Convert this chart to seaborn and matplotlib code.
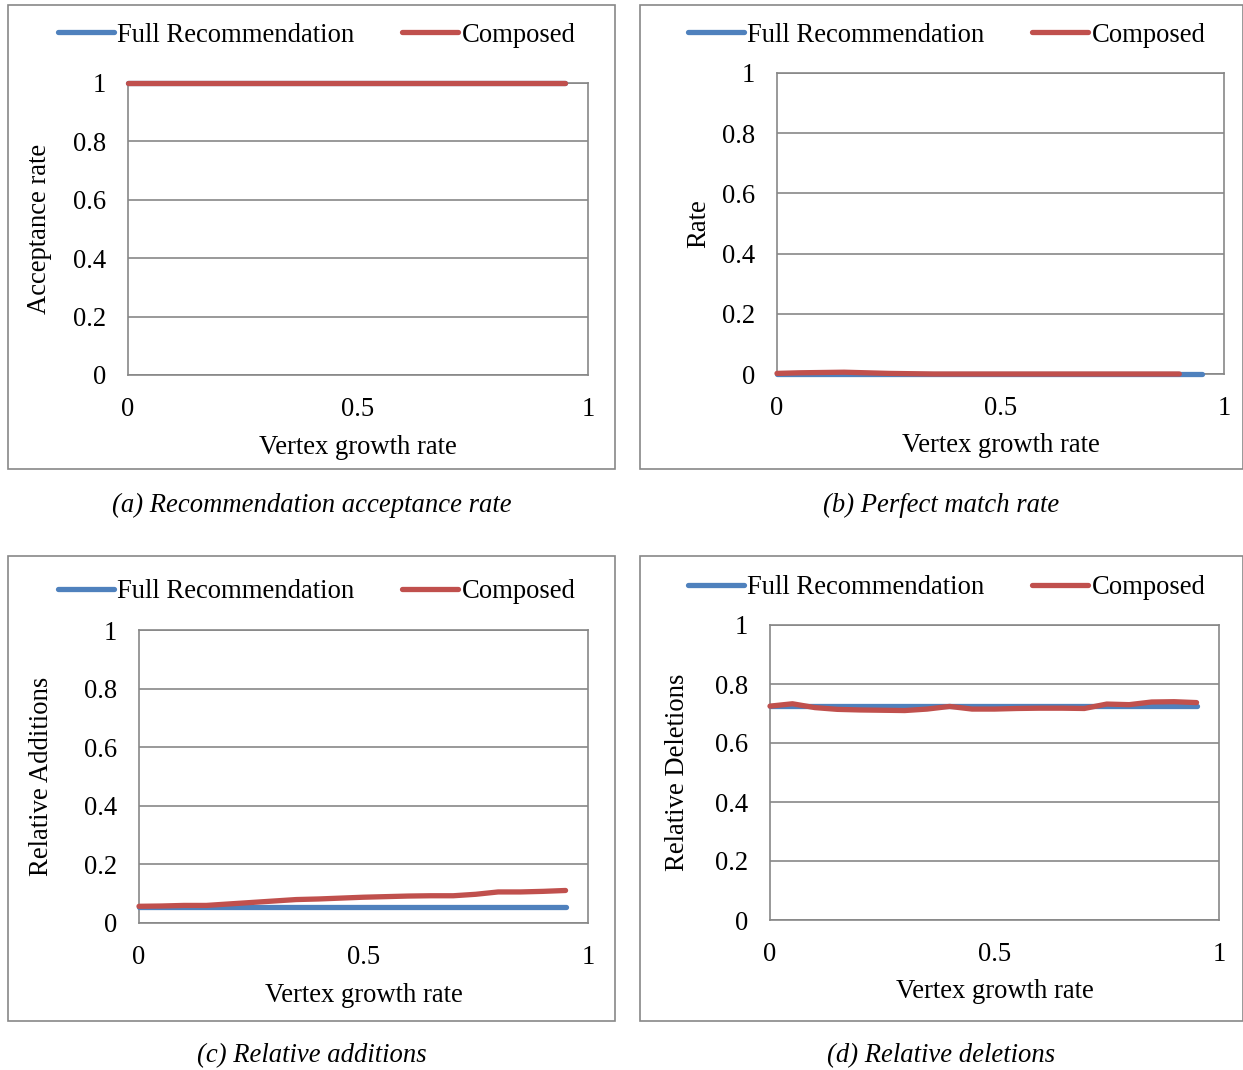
import numpy as np
import pandas as pd
import matplotlib.pyplot as plt
import seaborn as sns
from matplotlib.patches import Rectangle

# growth rates sampled in the experiments
growth = [0.0, 0.05, 0.1, 0.15, 0.2, 0.25, 0.3, 0.35, 0.4, 0.45,
          0.5, 0.55, 0.6, 0.65, 0.7, 0.75, 0.8, 0.85, 0.9, 0.95]

acc_full = [1.0] * 20
acc_comp = [1.0] * 20

perfect_full = [0.0] * 20
perfect_comp = [0.002, 0.004, 0.005, 0.006, 0.004, 0.002, 0.001, 0.0, 0.0, 0.0,
                0.0, 0.0, 0.0, 0.0, 0.0, 0.0, 0.0, 0.0, 0.0]  # last run missing

add_full = [0.055] * 20
add_comp = [0.057, 0.058, 0.06, 0.06, 0.065, 0.07, 0.075, 0.08, 0.082, 0.085,
            0.088, 0.09, 0.092, 0.093, 0.093, 0.098, 0.106, 0.106, 0.108, 0.111]

del_full = [0.725] * 20
del_comp = [0.725, 0.733, 0.72, 0.714, 0.712, 0.711, 0.71, 0.715, 0.724, 0.715,
            0.715, 0.717, 0.718, 0.718, 0.717, 0.732, 0.73, 0.739, 0.74, 0.737]

series_names = ["Full Recommendation", "Composed"]
captions = ["(a) Recommendation acceptance rate", "(b) Perfect match rate",
            "(c) Relative additions", "(d) Relative deletions"]
ylabels = ["Acceptance rate", "Rate", "Relative Additions", "Relative Deletions"]

BLUE = "#4F81BD"
RED = "#C0504D"
GRID = "#878787"
FS = 19.2
LW = 3.8

sns.set_style("white")
plt.rcParams["font.family"] = ["Liberation Serif", "DejaVu Serif"]
plt.rcParams["font.size"] = FS
plt.rcParams["text.color"] = "black"
plt.rcParams["xtick.labelcolor"] = "black"
plt.rcParams["ytick.labelcolor"] = "black"

W, H = 1243, 1070
fig = plt.figure(figsize=(W / 100, H / 100), dpi=100)


def frac(left, top, right, bottom):
    return [left / W, 1 - bottom / H, (right - left) / W, (bottom - top) / H]


panels = [
    # box (l, t, r, b), axes (l, t, r, b), legend y, caption y, ylabel x
    ((8, 5, 615, 469), (128, 83, 588, 375), 35, 505, 40),
    ((640, 5, 1243, 469), (777, 73, 1224, 374), 35, 505, 699),
    ((8, 556, 615, 1021), (139, 630, 588, 923), 592, 1056, 42),
    ((640, 556, 1243, 1021), (770, 625, 1219, 920), 588, 1056, 677),
]

data = [
    (acc_full, acc_comp),
    (perfect_full, perfect_comp),
    (add_full, add_comp),
    (del_full, del_comp),
]

for i, (box, axpos, leg_y, cap_y, ylab_x) in enumerate(panels):
    fig.add_artist(Rectangle((box[0] / W, 1 - box[3] / H),
                             (box[2] - box[0]) / W, (box[3] - box[1]) / H,
                             transform=fig.transFigure, fill=False,
                             edgecolor=GRID, linewidth=1.2))
    ax = fig.add_axes(frac(*axpos))
    full, comp = data[i]
    df = pd.DataFrame({
        "x": growth[:len(full)] + growth[:len(comp)],
        "y": full + comp,
        "series": [series_names[0]] * len(full) + [series_names[1]] * len(comp),
    })
    sns.lineplot(data=df, x="x", y="y", hue="series", palette=[BLUE, RED],
                 linewidth=LW, ax=ax, legend=False, solid_capstyle="round",
                 errorbar=None, clip_on=False, zorder=3)

    ax.set_xlim(0, 1)
    ax.set_ylim(0, 1)
    ax.set_xticks([0, 0.5, 1])
    ax.set_xticklabels(["0", "0.5", "1"])
    ax.set_yticks([0, 0.2, 0.4, 0.6, 0.8, 1])
    ax.set_yticklabels(["0", "0.2", "0.4", "0.6", "0.8", "1"])
    ax.yaxis.grid(True, color=GRID, linewidth=1.2)
    ax.set_axisbelow(True)
    for s in ax.spines.values():
        s.set_color(GRID)
        s.set_linewidth(1.2)
    ax.tick_params(axis="both", direction="out", length=6, width=1.2,
                   color=GRID, labelsize=FS, labelcolor="black")
    ax.tick_params(axis="y", pad=10)
    ax.tick_params(axis="x", pad=10)
    ax.set_xlabel("")
    ax.set_ylabel("")

    cx = (axpos[0] + axpos[2]) / 2
    fig.text(cx / W, 1 - (axpos[3] + 72) / H, "Vertex growth rate",
             ha="center", va="center", fontsize=FS)
    fig.text(ylab_x / W, 1 - ((axpos[1] + axpos[3]) / 2) / H, ylabels[i],
             ha="center", va="center", rotation=90, fontsize=FS)
    fig.text(((box[0] + box[2]) / 2) / W, 1 - cap_y / H, captions[i],
             ha="center", va="center", fontsize=FS, style="italic")

    handles = [plt.Line2D([], [], color=BLUE, lw=LW, solid_capstyle="round"),
               plt.Line2D([], [], color=RED, lw=LW, solid_capstyle="round")]
    fig.legend(handles, series_names, loc="center",
               bbox_to_anchor=(((box[0] + box[2]) / 2 + 5) / W, 1 - leg_y / H),
               ncol=2, frameon=False, handlelength=2.1, handletextpad=0.12,
               columnspacing=1.8, fontsize=FS, borderpad=0, borderaxespad=0)

fig.savefig("out.png", dpi=100)
